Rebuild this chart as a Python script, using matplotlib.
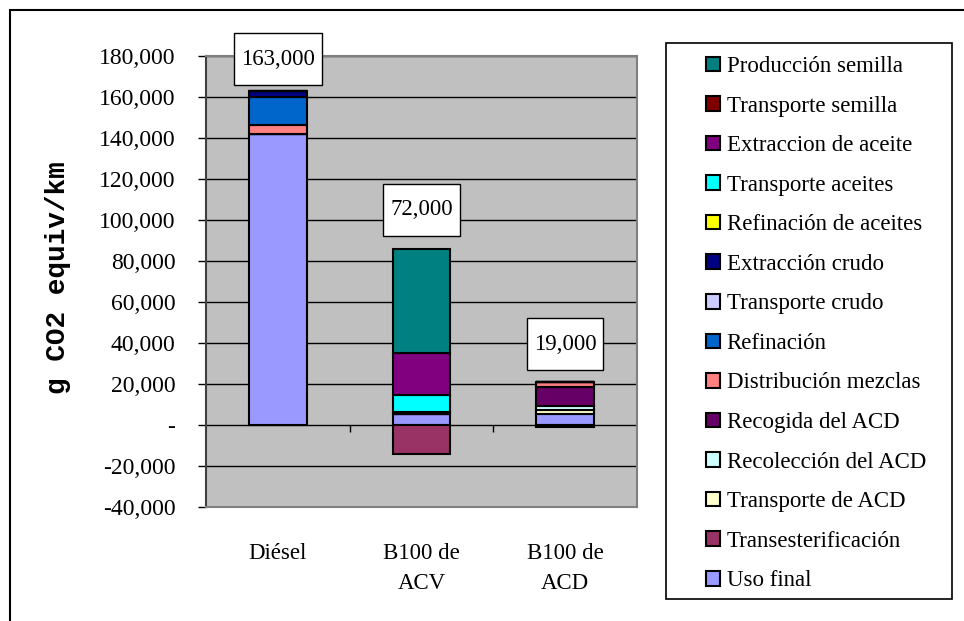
import matplotlib
matplotlib.use("Agg")
import matplotlib.pyplot as plt
from matplotlib.patches import Patch, Rectangle
from matplotlib.path import Path
from matplotlib.ticker import FuncFormatter, FixedLocator

categories = ["Diésel", "B100 de\nACV", "B100 de\nACD"]

# series in stacking order (bottom to top), values per category
series_names = [
    "Uso final", "Transesterificación", "Transporte de ACD", "Recolección del ACD",
    "Recogida del ACD", "Distribución mezclas", "Refinación", "Transporte crudo",
    "Extracción crudo", "Refinación de aceites", "Transporte aceites",
    "Extraccion de aceite", "Transporte semilla", "Producción semilla",
]
uso_final = [142000, 5300, 5400]
transesterificacion = [0, -14000, -1000]
transporte_acd = [0, 0, 2000]
recoleccion_acd = [0, 0, 1900]
recogida_acd = [0, 0, 9200]
distribucion_mezclas = [4500, 1200, 2600]
refinacion = [13500, 0, 0]
transporte_crudo = [0, 0, 0]
extraccion_crudo = [3000, 0, 0]
refinacion_aceites = [0, 0, 0]
transporte_aceites = [0, 8100, 0]
extraccion_aceite = [0, 20400, 0]
transporte_semilla = [0, 0, 0]
produccion_semilla = [0, 51000, 0]

series_values = [
    uso_final, transesterificacion, transporte_acd, recoleccion_acd, recogida_acd,
    distribucion_mezclas, refinacion, transporte_crudo, extraccion_crudo,
    refinacion_aceites, transporte_aceites, extraccion_aceite, transporte_semilla,
    produccion_semilla,
]
series_colors = [
    "#9999FF", "#993366", "#FFFFCC", "#CCFFFF", "#660066", "#FF8080", "#0066CC",
    "#CCCCFF", "#000080", "#FFFF00", "#00FFFF", "#800080", "#800000", "#008080",
]

total_labels = ["163,000", "72,000", "19,000"]
label_y = [178500, 105000, 39500]

yticks = list(range(-40000, 180001, 20000))

SERIF = ["Liberation Serif", "DejaVu Serif"]

fig = plt.figure(figsize=(9.64, 6.21), dpi=100)
W, H = 964, 621
ax = fig.add_axes([206 / W, 1 - 507 / H, (637 - 206) / W, (507 - 56) / H])
ax.set_facecolor("#C0C0C0")

x = list(range(len(categories)))
pos_base = [0.0] * len(categories)
neg_base = [0.0] * len(categories)
for name, vals, col in zip(series_names, series_values, series_colors):
    bottoms = []
    for i, v in enumerate(vals):
        if v >= 0:
            bottoms.append(pos_base[i])
            pos_base[i] += v
        else:
            bottoms.append(neg_base[i])
            neg_base[i] += v
    ax.bar(x, vals, width=0.4, bottom=bottoms, color=col, edgecolor="black",
           linewidth=1.5, zorder=3)

ax.set_xlim(-0.5, 2.5)
ax.set_ylim(-40000, 180000)
ax.yaxis.set_major_locator(FixedLocator(yticks))
ax.yaxis.set_major_formatter(FuncFormatter(lambda v, p: "-" if v == 0 else f"{int(v):,}"))
ax.grid(axis="y", color="black", linewidth=1.0, zorder=1)
ax.set_axisbelow(True)

for s in ["top", "right", "bottom"]:
    ax.spines[s].set_color("#808080")
    ax.spines[s].set_linewidth(1.5)
ax.spines["left"].set_color("#404040")
ax.spines["left"].set_linewidth(1.5)

ax.tick_params(axis="y", direction="out", length=6, width=1, pad=16,
               labelsize=17, color="black")
for t in ax.get_yticklabels():
    t.set_fontfamily(SERIF)

ax.set_xticks(x)
ax.set_xticklabels(categories, fontsize=16.5, family=SERIF, linespacing=1.55)
ax.tick_params(axis="x", length=0, pad=26)

# category separator ticks on the zero line
sec = ax.secondary_xaxis(40000 / 220000)
sec.set_xticks([0.5, 1.5])
sec.set_xticklabels(["", ""])
sec.tick_params(axis="x", direction="out", length=5, width=1, color="black")
sec.spines["bottom"].set_visible(False)


def label_box(x0, y0, width, height, mutation_size):
    px = 0.3 * mutation_size
    py = 0.68 * mutation_size
    x0, y0 = x0 - px, y0 - py
    x1, y1 = x0 + width + 2 * px, y0 + height + 2 * py
    return Path([(x0, y0), (x1, y0), (x1, y1), (x0, y1), (x0, y0)],
                closed=True)


# total labels
for xi, yv, lab in zip(x, label_y, total_labels):
    ax.text(xi, yv, lab, ha="center", va="center", fontsize=16.5, family=SERIF,
            zorder=5,
            bbox=dict(boxstyle=label_box, facecolor="white",
                      edgecolor="black", linewidth=1.0))

# y label
fig.text(58 / W, 1 - 278 / H, "g CO2 equiv/km", rotation=90, ha="center", va="center",
         fontsize=20, fontweight="bold", family=["Liberation Mono", "DejaVu Sans Mono"])

# legend
handles = [Patch(facecolor=c, edgecolor="black", linewidth=1.5, label=n)
           for n, c in zip(series_names, series_colors)][::-1]
leg = fig.legend(handles=handles, loc="upper left",
                 bbox_to_anchor=(706 / W, 1 - 56 / H), frameon=False,
                 prop={"family": SERIF, "size": 16.5}, handlelength=0.6,
                 handleheight=0.6, handletextpad=0.3, labelspacing=0.81,
                 borderpad=0.0, borderaxespad=0.0)

fig.patches.append(Rectangle((666 / W, 1 - 599 / H), (952 - 666) / W, (599 - 43) / H,
                             transform=fig.transFigure, facecolor="none",
                             edgecolor="black", linewidth=1.2))
# outer chart frame
fig.patches.append(Rectangle((10 / W, -0.05), 1.0, 1 - 10 / H + 0.05,
                             transform=fig.transFigure, facecolor="none",
                             edgecolor="black", linewidth=1.5))

fig.savefig("out.png", dpi=100)
